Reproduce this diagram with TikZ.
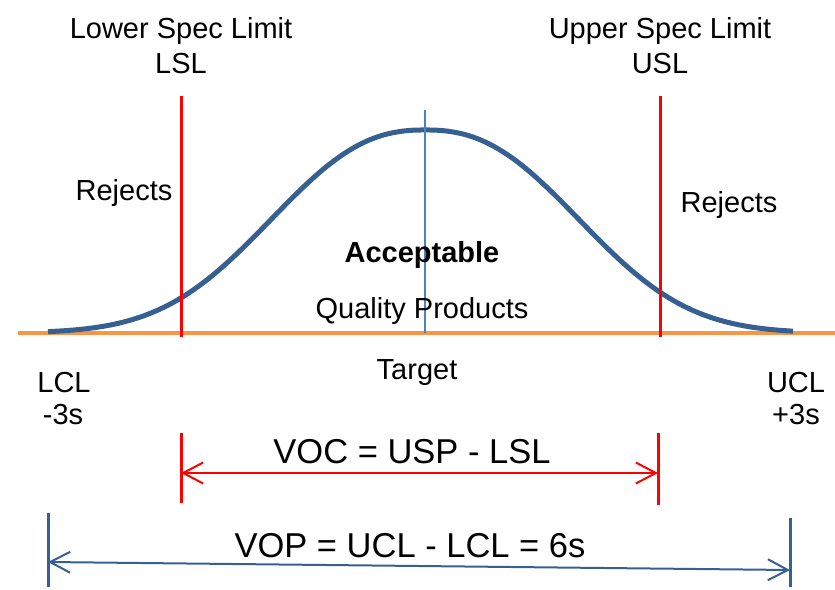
\documentclass[tikz,border=0pt]{standalone}
\usepackage{fontspec}
\setmainfont{Liberation Sans}
\usetikzlibrary{arrows.meta}

\definecolor{bellblue}{RGB}{55,96,146}
\definecolor{targetblue}{RGB}{79,129,189}
\definecolor{baseorange}{RGB}{247,150,70}

\tikzset{
	lbl/.style={anchor=base, inner sep=0pt, font=\fontsize{29}{35}\selectfont},
	biglbl/.style={anchor=base, inner sep=0pt, font=\fontsize{34.5}{41}\selectfont},
	speclimit/.style={red, line width=3pt},
	barbs/.style={{Straight Barb[length=20pt,width=21pt]}-{Straight Barb[length=20pt,width=21pt]}, line width=2pt},
}

\begin{document}
\begin{tikzpicture}[x=1pt,y=-1pt]
	\useasboundingbox (0,0) rectangle (835,589);
	\def\lsl{181}
	\def\usl{660}
	\def\mid{425}

	% axis and bell curve
	\coordinate (axisL) at (18,333);
	\coordinate (axisR) at (835,333);
	\draw [baseorange, line width=4.5pt] (axisL) -- (axisR);
	\draw [bellblue, line width=5pt] plot[domain=48:793, samples=150]
		(\x, {333-203*exp(-((abs(\x-\mid)+0.01)/193)^2.4)});

	\coordinate (tgtTop) at (\mid,110);
	\coordinate (tgtBot) at (\mid,333);
	\draw [targetblue, line width=1.8pt] (tgtTop) -- (tgtBot);

	% spec limits
	\coordinate (lslTop) at (\lsl,96);
	\coordinate (lslBot) at (\lsl,337);
	\coordinate (uslTop) at (\usl,96);
	\coordinate (uslBot) at (\usl,337);
	\draw [speclimit] (lslTop) -- (lslBot);
	\draw [speclimit] (uslTop) -- (uslBot);

	\node[lbl] (lowerName) at (\lsl,38) {Lower Spec Limit};
	\node[lbl] (lowerTag) at (\lsl,73) {LSL};
	\node[lbl] (upperName) at (\usl,38) {Upper Spec Limit};
	\node[lbl] (upperTag) at (\usl,73) {USL};

	\node[lbl] (rejL) at (124,200) {Rejects};
	\node[lbl] (rejR) at (729,212) {Rejects};
	\node[lbl] (accept) at (422,262) {\bfseries Acceptable};
	\node[lbl] (quality) at (422,318) {Quality Products};
	\node[lbl] (target) at (417,379) {Target};

	\node[lbl] (lcl) at (64,392) {LCL};
	\node[lbl] (lclSig) at (63,424) {-3s};
	\node[lbl] (ucl) at (796,392) {UCL};
	\node[lbl] (uclSig) at (796,424) {+3s};

	% voice of the customer
	\coordinate (vocLtop) at (\lsl,433);
	\coordinate (vocLbot) at (\lsl,503);
	\coordinate (vocRtop) at (658,433);
	\coordinate (vocRbot) at (658,505);
	\draw [speclimit] (vocLtop) -- (vocLbot);
	\draw [speclimit] (vocRtop) -- (vocRbot);
	\coordinate (vocL) at (\lsl,473);
	\coordinate (vocR) at (658,473);
	\draw [red, barbs] (vocL) -- (vocR);
	\node[biglbl] (voc) at (412,463) {VOC = USP - LSL};

	% voice of the process
	\coordinate (vopLtop) at (48,513);
	\coordinate (vopLbot) at (48,587);
	\coordinate (vopRtop) at (790,518);
	\coordinate (vopRbot) at (790,587);
	\draw [bellblue, line width=3pt] (vopLtop) -- (vopLbot);
	\draw [bellblue, line width=3pt] (vopRtop) -- (vopRbot);
	\coordinate (vopL) at (48,562);
	\coordinate (vopR) at (790,570);
	\draw [bellblue, barbs] (vopL) -- (vopR);
	\node[biglbl] (vop) at (410,557) {VOP = UCL - LCL = 6s};
\end{tikzpicture}
\end{document}
